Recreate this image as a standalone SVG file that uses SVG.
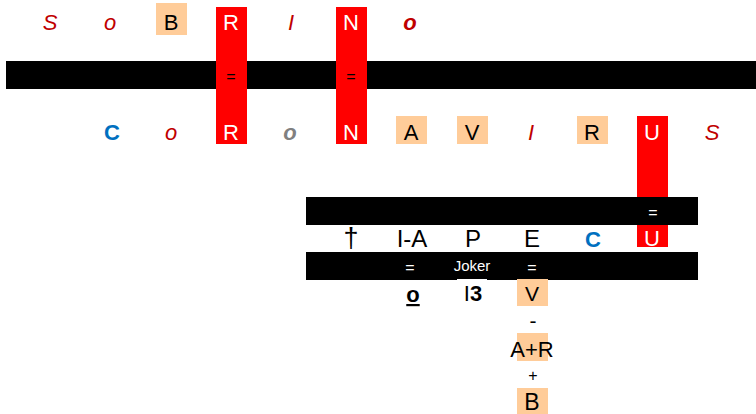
<svg xmlns="http://www.w3.org/2000/svg" width="756" height="414" viewBox="0 0 756 414">
<style>
text{font-family:"Liberation Sans",Arial,sans-serif;text-anchor:middle}
.t{font-size:22px;fill:#000}
.t3{font-size:24px;fill:#000}
.dr{font-size:22px;fill:#C00000;font-style:italic}
.drb{font-size:22px;fill:#C00000;font-style:italic;font-weight:bold}
.gr{font-size:22px;fill:#808080;font-style:italic;font-weight:bold}
.bl{font-size:22px;fill:#0070C0;font-weight:bold}
.w{font-size:22px;fill:#fff}
.eq{font-size:16px}
.peach{fill:#FFCC99}
.red{fill:#FF0000}
.bar{fill:#000}
</style>
<rect width="756" height="414" fill="#fff"/>
<g id="bars">
<rect class="bar" x="6" y="61" width="750" height="28"/>
<rect id="colU" class="red" x="637" y="116" width="31" height="131"/>
<rect class="bar" x="306" y="197" width="392" height="28"/>
<rect class="bar" x="306" y="252" width="392" height="28"/>
</g>
<g id="row1">
<text class="dr" x="50" y="29.5">S</text>
<text class="dr" x="110" y="29.5">o</text>
<g id="n-B1"><rect class="peach" x="156" y="3" width="31" height="32"/><text class="t" x="171" y="29.5">B</text></g>
<g id="n-R"><rect class="red" x="216" y="7" width="31" height="137"/><text class="w" x="231" y="29.5">R</text><text class="eq" x="231" y="82" fill="#000">=</text><text class="w" x="231" y="139.5">R</text></g>
<text class="dr" x="291" y="29.5">I</text>
<g id="n-N"><rect class="red" x="336" y="7" width="31" height="137"/><text class="w" x="351" y="29.5">N</text><text class="eq" x="351" y="82" fill="#000">=</text><text class="w" x="351" y="139.5">N</text></g>
<text class="drb" x="410" y="29.5">o</text>
</g>
<g id="row2">
<text class="bl" x="112" y="139.5">C</text>
<text class="dr" x="171" y="139.5">o</text>
<text class="gr" x="290" y="139.5">o</text>
<g id="n-A"><rect class="peach" x="396" y="116" width="31" height="28"/><text class="t" x="411" y="139.5">A</text></g>
<g id="n-V1"><rect class="peach" x="457" y="116" width="31" height="28"/><text class="t" x="472" y="139.5">V</text></g>
<text class="dr" x="531" y="139.5">I</text>
<g id="n-R2"><rect class="peach" x="577" y="116" width="31" height="28"/><text class="t" x="592" y="139.5">R</text></g>
<g id="n-U"><text class="w" x="652" y="139.5">U</text><text class="eq" x="653" y="218" fill="#fff">=</text><text class="w" x="652" y="246" font-size="24">U</text></g>
<text class="dr" x="712" y="139.5">S</text>
</g>
<g id="row3">
<text x="351" y="247" font-size="27">†</text>
<text class="t3" x="412" y="246.5">I-A</text>
<text class="t3" x="473" y="246.5">P</text>
<text class="t3" x="532" y="246.5">E</text>
<text class="bl" x="593" y="246.5" font-size="23">C</text>
<text class="eq" x="410" y="273" fill="#fff">=</text>
<text x="472" y="271" font-size="15" fill="#fff">Joker</text>
<text class="eq" x="532" y="273" fill="#fff">=</text>
</g>
<g id="row4">
<text x="413" y="302" font-size="22" font-weight="bold" text-decoration="underline">o</text>
<g id="n-I3"><rect x="457" y="279" width="30" height="27" fill="#fff"/><text x="473" y="301" font-size="22"><tspan>I</tspan><tspan font-weight="bold">3</tspan></text></g>
<g id="n-V2"><rect class="peach" x="517" y="279" width="31" height="27"/><text x="532" y="301" font-size="21">V</text></g>
<text x="533" y="328" font-size="21">-</text>
<g id="n-AR"><rect class="peach" x="517" y="333" width="31" height="28"/><text class="t" x="532" y="356.5">A+R</text></g>
<text x="533" y="381" font-size="16">+</text>
<g id="n-B2"><rect class="peach" x="517" y="388" width="31" height="26"/><text x="532" y="410" font-size="23">B</text></g>
</g>
</svg>
